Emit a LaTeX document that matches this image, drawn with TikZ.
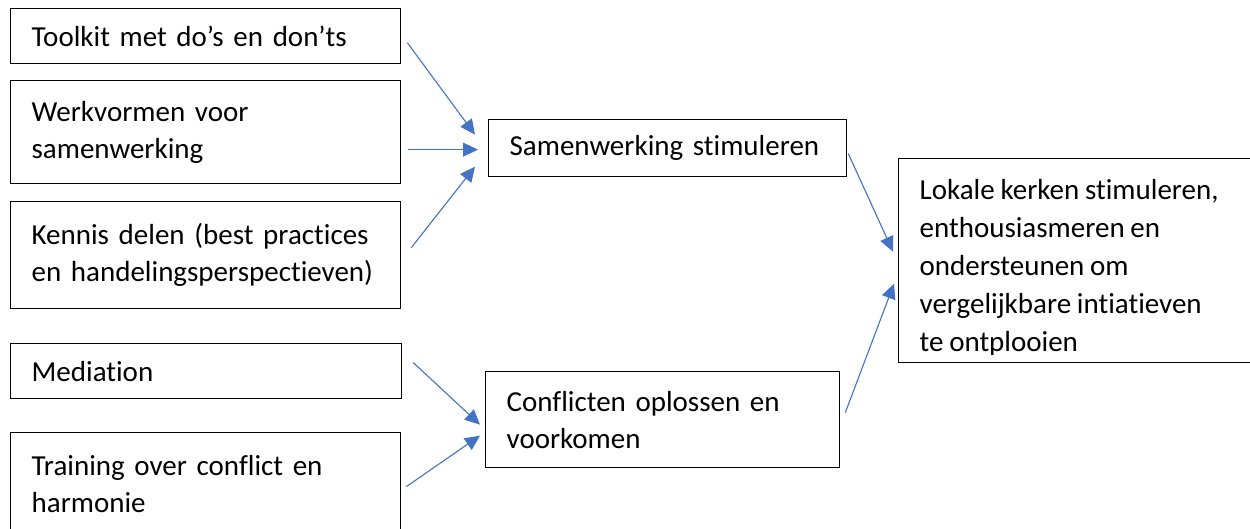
\documentclass[tikz,border=0pt]{standalone}
\usepackage{fontspec}
\setmainfont{Carlito}[Ligatures=CommonOff, WordSpace=0.88]
\usepackage{tikz}
\usetikzlibrary{arrows.meta,positioning}
\definecolor{pijlblauw}{HTML}{4472C4}

\begin{document}
\begin{tikzpicture}[x = 1pt, y = 1pt,
blok/.style = {draw, line width = 1.3pt, anchor = north west,
  align = left, inner xsep = 21pt, inner ysep = 0pt,
  font = \fontsize{29}{37}\selectfont},
pijl/.style = {draw = pijlblauw, line width = 1.1pt,
  -{Triangle[length = 15pt, width = 14pt]}}]
\useasboundingbox (0,0) rectangle (1250,528);
%\begin{scope}
\node[blok, text width = 348pt, minimum height = 55pt] (toolkit) at (10,520) {Toolkit met do’s en don’ts};
\node[blok, text width = 348pt, minimum height = 103pt] (werk) at (10,448) {Werkvormen voor\\samenwerking};
\node[blok, text width = 348pt, minimum height = 107pt] (kennis) at (10,327) {Kennis delen (best practices\\en handelingsperspectieven)};
\node[blok, text width = 349pt, minimum height = 55pt] (mediation) at (10,185) {Mediation};
\node[blok, text width = 348pt, minimum height = 102pt] (training) at (10,96) {Training over conflict en\\harmonie};
\node[blok, text width = 316pt, minimum height = 57pt] (samen) at (488,409) {Samenwerking stimuleren};
\node[blok, text width = 312pt, minimum height = 96pt] (conflict) at (485,157) {Conflicten oplossen en\\voorkomen};
\node[blok, minimum width = 420pt, minimum height = 204pt] (lokale) at (898,370) {};
\begin{scope}
\clip (lokale.north west) rectangle ([yshift = 9pt]lokale.south east);
\node[blok, draw = none, inner ysep = 21pt] (lokaletekst) at (lokale.north west)
  {\parbox[t][162pt][t]{380pt}{\raggedright\baselineskip = 38pt Lokale kerken stimuleren,\\enthousiasmeren en\\ondersteunen om\\vergelijkbare intiatieven\\te ontplooien\par}};
\end{scope}
%\end{scope}
\draw[pijl] ([shift={(6,-6.5)}]toolkit.east) -- ([shift={(-13,13.5)}]samen.west);
\draw[pijl] ([shift={(7,-17.5)}]werk.east) -- ([shift={(-10,-1.5)}]samen.west);
\draw[pijl] ([shift={(10,7.5)}]kennis.east) -- ([shift={(-13,-18.5)}]samen.west);
\draw[pijl] ([shift={(11,8.5)}]mediation.east) -- ([shift={(-5,-5)}]conflict.west);
\draw[pijl] ([shift={(5,-3)}]training.east) -- ([shift={(-5,-16)}]conflict.west);
\draw[pijl] ([shift={(1,-5.5)}]samen.east) -- ([shift={(-5,9)}]lokale.west);
\draw[pijl] ([shift={(5,7)}]conflict.east) -- ([shift={(-4,-23)}]lokale.west);
\end{tikzpicture}
\end{document}
